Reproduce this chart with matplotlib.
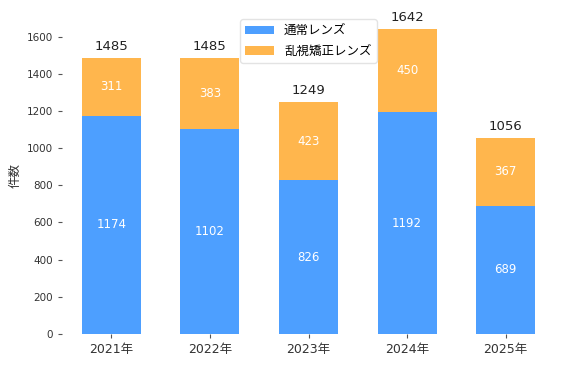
import matplotlib
matplotlib.use("Agg")
import matplotlib.pyplot as plt
import numpy as np

plt.rcParams["font.family"] = ["DejaVu Sans", "Noto Sans CJK JP"]

years = ["2021年", "2022年", "2023年", "2024年", "2025年"]
normal = [1174, 1102, 826, 1192, 689]
astig = [311, 383, 423, 450, 367]
series_names = ["通常レンズ", "乱視矯正レンズ"]

blue = "#4d9fff"
orange = "#ffb64d"

fig = plt.figure(figsize=(5.69, 3.66), dpi=100)
ax = fig.add_axes([62 / 569, 32 / 366, 493 / 569, 316 / 366])

x = np.arange(len(years))
totals = np.array(normal) + np.array(astig)

ax.bar(x, normal, width=0.6, color=blue, label=series_names[0])
ax.bar(x, astig, width=0.6, bottom=normal, color=orange,
       label=series_names[1])

for i in range(len(years)):
    ax.text(x[i], normal[i] / 2, str(normal[i]), ha="center", va="center",
            color="white", fontsize=8.5)
    ax.text(x[i], normal[i] + astig[i] / 2, str(astig[i]), ha="center",
            va="center", color="white", fontsize=8.5)
    ax.text(x[i], totals[i] + 25, str(totals[i]), ha="center", va="bottom",
            color="#222222", fontsize=9.5, clip_on=False)

ax.set_xlim(-0.5, len(years) - 0.5)
ax.set_ylim(0, 1700)
ax.set_xticks(x)
ax.set_xticklabels(years, fontsize=9, color="#333333")
ax.set_yticks(np.arange(0, 1601, 200))
ax.tick_params(axis="y", labelsize=7.5, colors="#333333", length=3,
               color="#555555")
ax.tick_params(axis="x", length=3, color="#555555")
ax.set_ylabel("件数", fontsize=9, color="#333333")
for s in ax.spines.values():
    s.set_visible(False)

ax.legend(loc="upper center", bbox_to_anchor=(0.5, 1.0), fontsize=9,
          frameon=True, edgecolor="#dddddd", handlelength=2.3,
          borderaxespad=0.1, labelspacing=0.6)

plt.savefig("out.png", dpi=100)
